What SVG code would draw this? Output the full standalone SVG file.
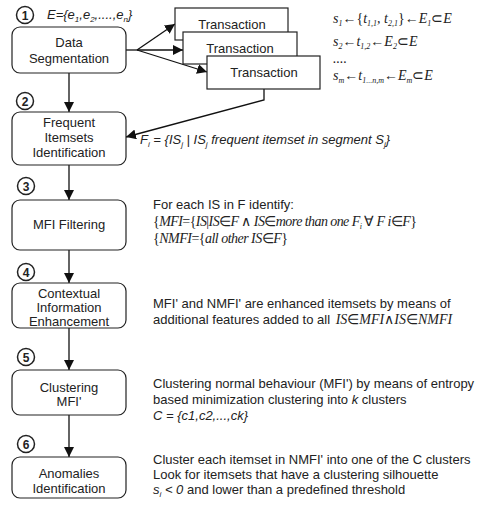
<svg xmlns="http://www.w3.org/2000/svg" width="477" height="508" viewBox="0 0 477 508">
<defs>
<marker id="ah" viewBox="0 0 10 10" refX="10" refY="5" markerWidth="10" markerHeight="10" markerUnits="userSpaceOnUse" orient="auto">
<path d="M0,0 L10,5 L0,10 Z" fill="#111"/>
</marker>
<style>
.box{fill:#fff;stroke:#222;stroke-width:1.2}
.lbl{font-family:"Liberation Sans",Arial,sans-serif;font-size:13px;fill:#222;text-anchor:middle}
.txt{font-family:"Liberation Sans",Arial,sans-serif;font-size:13px;fill:#222}
.it{font-style:italic}
.math{font-family:"Liberation Serif","Times New Roman",serif;font-style:italic;font-size:14px;fill:#222}
.up{font-style:normal}
.num{font-family:"Liberation Sans",Arial,sans-serif;font-size:12px;font-weight:bold;fill:#222;text-anchor:middle}
.circ{fill:#fff;stroke:#222;stroke-width:1.5}
.con{fill:none;stroke:#111;stroke-width:1.3}
.sub{font-size:8px}
</style>
</defs>
<rect width="477" height="508" fill="#fff"/>

<g id="connectors">
<line class="con" x1="69" y1="73" x2="69" y2="112" marker-end="url(#ah)"/>
<line class="con" x1="69" y1="165" x2="69" y2="200" marker-end="url(#ah)"/>
<line class="con" x1="69" y1="250" x2="69" y2="283" marker-end="url(#ah)"/>
<line class="con" x1="69" y1="328" x2="69" y2="370" marker-end="url(#ah)"/>
<line class="con" x1="69" y1="415" x2="69" y2="457" marker-end="url(#ah)"/>
<line class="con" x1="126" y1="50" x2="137" y2="50"/>
<line class="con" x1="137" y1="50" x2="175" y2="24" marker-end="url(#ah)"/>
<line class="con" x1="137" y1="50" x2="183" y2="50" marker-end="url(#ah)"/>
<line class="con" x1="137" y1="50" x2="207" y2="72" marker-end="url(#ah)"/>
<polyline class="con" points="264,89 264,100 126,137" marker-end="url(#ah)"/>
</g>

<g id="step1">
<circle class="circ" cx="25" cy="15" r="8.5"/>
<text class="num" x="25" y="19.5">1</text>
<text class="txt it" x="47" y="19">E={e<tspan class="sub" dy="3">1</tspan><tspan dy="-3">,e</tspan><tspan class="sub" dy="3">2</tspan><tspan dy="-3">,....,e</tspan><tspan class="sub" dy="3">n</tspan><tspan dy="-3">}</tspan></text>
<rect class="box" x="12" y="27" width="114" height="46" rx="8"/>
<text class="lbl" x="69" y="47">Data</text>
<text class="lbl" x="69" y="63">Segmentation</text>
</g>

<g id="transactions">
<rect class="box" x="175" y="8" width="113" height="32"/>
<text class="lbl" x="232" y="29">Transaction</text>
<rect class="box" x="183" y="32" width="114" height="32"/>
<text class="lbl" x="240" y="52.5">Transaction</text>
<rect class="box" x="207" y="56" width="113" height="33"/>
<text class="lbl" x="264" y="77">Transaction</text>
</g>

<g id="segments">
<text class="math" x="333" y="23">s<tspan class="sub" dy="3">1</tspan><tspan class="up" dy="-3">←{</tspan>t<tspan class="sub" dy="3">1,1</tspan><tspan dy="-3">, t</tspan><tspan class="sub" dy="3">2,1</tspan><tspan class="up" dy="-3">}←</tspan>E<tspan class="sub" dy="3">1</tspan><tspan class="up" dy="-3">⊂</tspan>E</text>
<text class="math" x="333" y="46">s<tspan class="sub" dy="3">2</tspan><tspan class="up" dy="-3">←</tspan>t<tspan class="sub" dy="3">1,2</tspan><tspan class="up" dy="-3">←</tspan>E<tspan class="sub" dy="3">2</tspan><tspan class="up" dy="-3">⊂</tspan>E</text>
<text class="math" x="333" y="63">....</text>
<text class="math" x="333" y="80">s<tspan class="sub" dy="3">m</tspan><tspan class="up" dy="-3">←</tspan>t<tspan class="sub" dy="3">1...n,m</tspan><tspan class="up" dy="-3">←</tspan>E<tspan class="sub" dy="3">m</tspan><tspan class="up" dy="-3">⊂</tspan>E</text>
</g>

<g id="step2">
<circle class="circ" cx="25" cy="101" r="8.5"/>
<text class="num" x="25" y="105.5">2</text>
<rect class="box" x="12" y="112" width="114" height="53" rx="8"/>
<text class="lbl" x="69" y="127">Frequent</text>
<text class="lbl" x="69" y="142">Itemsets</text>
<text class="lbl" x="69" y="157">Identification</text>
<text class="txt it" x="140" y="144">F<tspan class="sub" dy="3">i</tspan><tspan dy="-3"> = {IS</tspan><tspan class="sub" dy="3">j</tspan><tspan dy="-3"> | IS</tspan><tspan class="sub" dy="3">j</tspan><tspan dy="-3"> frequent itemset in segment S</tspan><tspan class="sub" dy="3">j</tspan><tspan dy="-3">}</tspan></text>
</g>

<g id="step3">
<circle class="circ" cx="26" cy="186" r="8.5"/>
<text class="num" x="26" y="190.5">3</text>
<rect class="box" x="12" y="200" width="114" height="50" rx="8"/>
<text class="lbl" x="69" y="229">MFI Filtering</text>
<text class="txt" x="153" y="209">For each IS in F identify:</text>
<text class="math" x="153" y="226" textLength="264" lengthAdjust="spacing"><tspan class="up">{</tspan>MFI<tspan class="up">={</tspan>IS<tspan class="up">|</tspan>IS<tspan class="up">∈</tspan>F<tspan class="up"> ∧ </tspan>IS<tspan class="up">∈</tspan>more than one F<tspan class="sub" dy="3">i</tspan><tspan class="up" dy="-3"> ∀ </tspan>F i<tspan class="up">∈</tspan>F<tspan class="up">}</tspan></text>
<text class="math" x="153" y="243" textLength="135" lengthAdjust="spacing"><tspan class="up">{</tspan>NMFI<tspan class="up">={</tspan>all other IS<tspan class="up">∈</tspan>F<tspan class="up">}</tspan></text>
</g>

<g id="step4">
<circle class="circ" cx="26" cy="272" r="8.5"/>
<text class="num" x="26" y="276.5">4</text>
<rect class="box" x="12" y="283" width="114" height="45" rx="8"/>
<text class="lbl" x="69" y="298">Contextual</text>
<text class="lbl" x="69" y="312">Information</text>
<text class="lbl" x="69" y="326">Enhancement</text>
<text class="txt" x="153" y="308">MFI' and NMFI' are enhanced itemsets by means of</text>
<text class="txt" x="153" y="324">additional features added to all <tspan class="math" dx="2">IS<tspan class="up">∈</tspan>MFI<tspan class="up">∧</tspan>IS<tspan class="up">∈</tspan>NMFI</tspan></text>
</g>

<g id="step5">
<circle class="circ" cx="26" cy="357" r="8.5"/>
<text class="num" x="26" y="361.5">5</text>
<rect class="box" x="12" y="370" width="114" height="45" rx="8"/>
<text class="lbl" x="69" y="392">Clustering</text>
<text class="lbl" x="69" y="406">MFI'</text>
<text class="txt" x="153" y="388">Clustering normal behaviour (MFI') by means of entropy</text>
<text class="txt" x="153" y="404">based minimization clustering into <tspan class="it">k</tspan> clusters</text>
<text class="txt it" x="153" y="420">C = {c1,c2,...,ck}</text>
</g>

<g id="step6">
<circle class="circ" cx="26" cy="444" r="8.5"/>
<text class="num" x="26" y="448.5">6</text>
<rect class="box" x="12" y="457" width="114" height="41" rx="8"/>
<text class="lbl" x="69" y="478">Anomalies</text>
<text class="lbl" x="69" y="493">Identification</text>
<text class="txt" x="153" y="464">Cluster each itemset in NMFI' into one of the C clusters</text>
<text class="txt" x="153" y="479">Look for itemsets that have a clustering silhouette</text>
<text class="txt" x="153" y="494"><tspan class="it">s</tspan><tspan class="it sub" dy="3">i</tspan><tspan class="it" dy="-3"> &lt; 0</tspan> and lower than a predefined threshold</text>
</g>
</svg>
